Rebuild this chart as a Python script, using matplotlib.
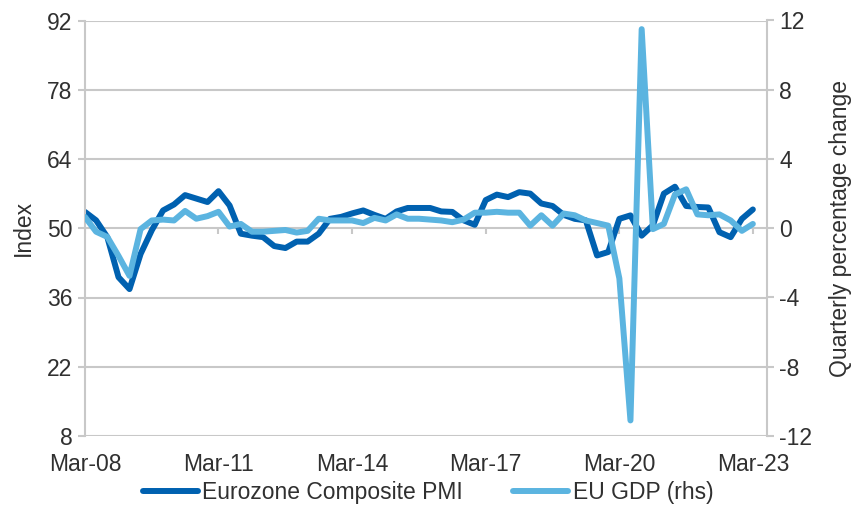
import pandas as pd
import matplotlib
matplotlib.use("Agg")
import matplotlib.pyplot as plt
import matplotlib.dates as mdates

plt.rcParams["font.family"] = ["Liberation Sans", "DejaVu Sans"]
plt.rcParams["axes.unicode_minus"] = False

# quarterly observations, Q1 2008 .. Q1 2023
quarters = pd.date_range("2008-03-31", periods=61, freq="QE")

pmi = [
    53.3, 51.6, 48.2, 40.1, 37.7, 44.8, 49.6, 53.6, 54.8, 56.7, 56.0, 55.3, 57.5, 54.6, 48.9, 48.5,
    48.2, 46.4, 46.0, 47.3, 47.3, 48.9, 51.9, 52.3, 53.0, 53.6, 52.7, 51.9, 53.4, 54.1, 54.1,
    54.1, 53.4, 53.3, 51.6, 50.7, 55.7, 56.8, 56.3, 57.3, 57.0, 55.0, 54.5, 52.7, 51.9, 51.6, 44.5,
    45.2, 51.9, 52.6, 48.5, 50.6, 57.0, 58.4, 54.5, 54.3, 54.2, 49.2, 48.2, 51.9, 53.8,
]

gdp = [
    0.65, -0.2, -0.5, -1.6, -2.75, -0.05, 0.45, 0.5, 0.45, 1.0, 0.55, 0.7, 0.95, 0.1, 0.25, -0.2,
    -0.2, -0.15, -0.1, -0.25, -0.15, 0.55, 0.45, 0.45, 0.45, 0.3, 0.6, 0.45, 0.8, 0.55, 0.55,
    0.5, 0.45, 0.35, 0.5, 0.9, 0.9, 0.95, 0.9, 0.9, 0.15, 0.75, 0.15, 0.85, 0.75, 0.45, 0.3,
    0.15, -2.9, -11.1, 11.5, -0.05, 0.25, 1.95, 2.25, 0.8, 0.75, 0.8, 0.45, -0.15, 0.25,
]

left_ticks = [8, 22, 36, 50, 64, 78, 92]
right_ticks = [-12, -8, -4, 0, 4, 8, 12]
x_ticks = pd.to_datetime(["2008-03-31", "2011-03-31", "2014-03-31",
                          "2017-03-31", "2020-03-31", "2023-03-31"])

DARK = "#0061b0"
LIGHT = "#5bb4e0"
GRID = "#c8c8c8"
TEXT = "#303030"
FS = 16.5
LW = 4.3

fig = plt.figure(figsize=(8.56, 5.07), dpi=100)
ax = fig.add_axes([85 / 856, 1 - 436 / 507, (767 - 85) / 856, (436 - 20.5) / 507])
ax2 = ax.twinx()

ax.set_ylim(8, 92)
ax.set_yticks(left_ticks)
ax2.set_ylim(-12, 12)
ax2.set_yticks(right_ticks)
ax.set_xlim(pd.Timestamp("2008-03-31"), pd.Timestamp("2023-07-25"))
ax.set_xticks(x_ticks)
ax.xaxis.set_major_formatter(mdates.DateFormatter("%b-%y"))

ax.grid(axis="y", color=GRID, lw=1.5)
ax.set_axisbelow(True)
for a in (ax, ax2):
    for s in a.spines.values():
        s.set_visible(False)
ax.spines["left"].set_visible(True)
ax.spines["left"].set_color(GRID)
ax.spines["left"].set_linewidth(1.5)
ax2.spines["right"].set_visible(True)
ax2.spines["right"].set_color(GRID)
ax2.spines["right"].set_linewidth(1.5)

ax.tick_params(axis="y", length=5, width=1.5, color=GRID, labelsize=FS,
               labelcolor=TEXT, pad=4)
ax2.tick_params(axis="y", length=5, width=1.5, color=GRID, labelsize=FS,
                labelcolor=TEXT, pad=4)
ax.tick_params(axis="x", length=0, labelsize=FS, labelcolor=TEXT, pad=12)

# category-axis tick marks sit on the zero line of the secondary scale
ax.vlines(x_ticks, 48.9, 50, color=GRID, lw=1.5, zorder=1)

ax.plot(quarters, pmi, color=DARK, lw=LW, solid_joinstyle="round",
        solid_capstyle="round", label="Eurozone Composite PMI")
ax2.plot(quarters, gdp, color=LIGHT, lw=LW, solid_joinstyle="round",
         solid_capstyle="round", label="EU GDP (rhs)")

ax.set_ylabel("Index", fontsize=FS, color=TEXT, labelpad=9)
ax2.set_ylabel("Quarterly percentage change", fontsize=FS, color=TEXT, labelpad=12)

h1, l1 = ax.get_legend_handles_labels()
h2, l2 = ax2.get_legend_handles_labels()
fig.legend(h1 + h2, l1 + l2, loc="center", bbox_to_anchor=(0.5, 1 - 493 / 507),
           ncol=2, frameon=False, fontsize=FS, handlelength=2.4,
           handletextpad=0.2, columnspacing=2.2, labelcolor=TEXT,
           borderpad=0, borderaxespad=0)

fig.savefig("out.png", dpi=100)
